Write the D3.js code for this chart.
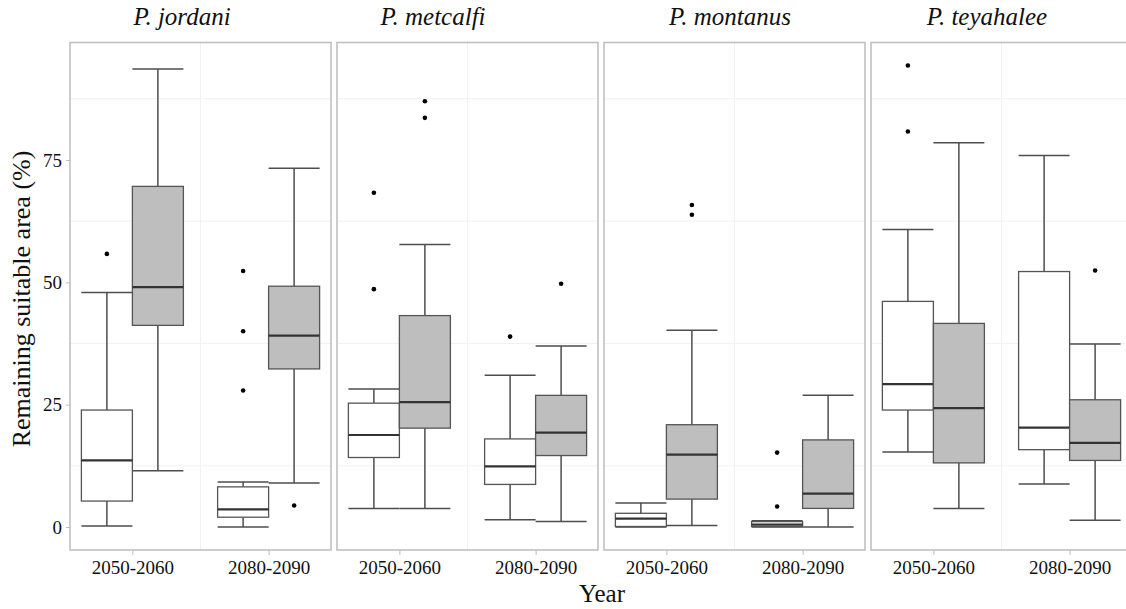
<!DOCTYPE html>
<html>
<head>
<meta charset="utf-8">
<script src="https://cdnjs.cloudflare.com/ajax/libs/d3/7.8.5/d3.min.js"></script>
<style>
    body { margin: 0; background: #fff; }
    svg { display: block; font-family: "Liberation Serif", "DejaVu Serif", serif; }
</style>
</head>
<body>
<div id="chart"></div>
<script>
// data: [lower whisker, q1, median, q3, upper whisker]
// order in each list: 2050-2060 white, 2050-2060 grey, 2080-2090 white, 2080-2090 grey
const species = ['P. jordani', 'P. metcalfi', 'P. montanus', 'P. teyahalee'];
const periods = ['2050-2060', '2080-2090'];
const scenarios = ['white', 'grey'];
const yTicks = [0, 25, 50, 75];

const jordaniBoxes = [[0.2, 5.3, 13.6, 23.9, 47.9], [11.5, 41.2, 49.0, 69.6, 93.6], [0, 2.0, 3.6, 8.2, 9.2], [9.0, 32.3, 39.1, 49.2, 73.3]];
const jordaniOutliers = [[55.8], [], [27.9, 40.0, 52.3], [4.4]];

const metcalfiBoxes = [[3.8, 14.2, 18.8, 25.3, 28.2], [3.8, 20.2, 25.5, 43.2, 57.7], [1.5, 8.7, 12.4, 18.0, 31.0], [1.1, 14.6, 19.3, 26.9, 37.0]];
const metcalfiOutliers = [[48.6, 68.3], [83.6, 87.0], [38.9], [49.7]];

const montanusBoxes = [[0, 0.1, 1.7, 2.8, 4.9], [0.3, 5.7, 14.8, 20.9, 40.2], [0, 0.1, 0.5, 1.1, 1.3], [0, 3.8, 6.8, 17.8, 26.9]];
const montanusOutliers = [[], [63.8, 65.8], [4.2, 15.2], []];

const teyahaleeBoxes = [[15.3, 23.9, 29.2, 46.1, 60.8], [3.8, 13.1, 24.3, 41.6, 78.5], [8.8, 15.8, 20.3, 52.2, 75.9], [1.4, 13.6, 17.2, 26.0, 37.4]];
const teyahaleeOutliers = [[80.8, 94.3], [], [], [52.4]];

const boxesBySpecies = [jordaniBoxes, metcalfiBoxes, montanusBoxes, teyahaleeBoxes];
const outliersBySpecies = [jordaniOutliers, metcalfiOutliers, montanusOutliers, teyahaleeOutliers];

// layout
const WIDTH = 1126, HEIGHT = 609;
const PANEL_LEFT = 70, PANEL_STEP = 267, PANEL_W = 261;
const PANEL_TOP = 42.5, PANEL_BOTTOM = 550;
const TITLE_X = [182, 433, 730, 987];
const FILLS = { white: '#ffffff', grey: '#bebebe' };

let svg = d3.select('#chart').append('svg')
    .attr('width', WIDTH)
    .attr('height', HEIGHT);

let y = d3.scaleLinear().domain([-4.7, 99.0]).range([PANEL_BOTTOM, PANEL_TOP]);
let dodge = d3.scaleBand().domain(scenarios).range([-51, 51]).padding(0);

function drawPanel(i) {
    let left = PANEL_LEFT + i * PANEL_STEP;
    let x = d3.scalePoint().domain(periods).range([left, left + PANEL_W]).padding(0.458);
    let g = svg.append('g');

    // faint grid
    g.selectAll('.hgrid').data([12.5, 37.5, 62.5, 87.5]).enter().append('line')
        .attr('x1', left).attr('x2', left + PANEL_W)
        .attr('y1', d => y(d)).attr('y2', d => y(d))
        .attr('stroke', '#f1f1f1').attr('stroke-width', 1);
    g.append('line')
        .attr('x1', left + PANEL_W / 2).attr('x2', left + PANEL_W / 2)
        .attr('y1', PANEL_TOP).attr('y2', PANEL_BOTTOM)
        .attr('stroke', '#f1f1f1').attr('stroke-width', 1);

    let boxes = boxesBySpecies[i];
    let outliers = outliersBySpecies[i];
    let bw = dodge.bandwidth();

    boxes.forEach((b, k) => {
        let period = periods[Math.floor(k / 2)];
        let scen = scenarios[k % 2];
        let x0 = x(period) + dodge(scen);
        let cx = x0 + bw / 2;

        // whiskers with caps
        g.append('line').attr('x1', cx).attr('x2', cx).attr('y1', y(b[0])).attr('y2', y(b[1]))
            .attr('stroke', '#4d4d4d').attr('stroke-width', 1.5);
        g.append('line').attr('x1', cx).attr('x2', cx).attr('y1', y(b[3])).attr('y2', y(b[4]))
            .attr('stroke', '#4d4d4d').attr('stroke-width', 1.5);
        [b[0], b[4]].forEach(v => {
            g.append('line').attr('x1', x0).attr('x2', x0 + bw).attr('y1', y(v)).attr('y2', y(v))
                .attr('stroke', '#4d4d4d').attr('stroke-width', 1.5);
        });

        g.append('rect')
            .attr('x', x0).attr('width', bw)
            .attr('y', y(b[3])).attr('height', Math.max(0.5, y(b[1]) - y(b[3])))
            .attr('fill', FILLS[scen])
            .attr('stroke', '#555').attr('stroke-width', 1.3);
        g.append('line').attr('x1', x0).attr('x2', x0 + bw).attr('y1', y(b[2])).attr('y2', y(b[2]))
            .attr('stroke', '#333').attr('stroke-width', 2.2);

        g.selectAll(null).data(outliers[k]).enter().append('circle')
            .attr('cx', cx).attr('cy', d => y(d)).attr('r', 2.3)
            .attr('fill', '#000');
    });

    // border
    g.append('rect')
        .attr('x', left).attr('y', PANEL_TOP)
        .attr('width', PANEL_W).attr('height', PANEL_BOTTOM - PANEL_TOP)
        .attr('fill', 'none').attr('stroke', '#bdbdbd').attr('stroke-width', 1.5);

    // x axis
    let xAxis = g.append('g')
        .attr('transform', `translate(0,${PANEL_BOTTOM})`)
        .call(d3.axisBottom(x).tickSize(5).tickPadding(6));
    xAxis.select('.domain').remove();
    xAxis.selectAll('line').attr('stroke', '#bdbdbd');
    xAxis.selectAll('text').attr('font-size', 19).attr('font-family', '"Liberation Serif", serif').attr('fill', '#111');

    // strip title
    svg.append('text')
        .attr('x', TITLE_X[i]).attr('y', 25)
        .attr('text-anchor', 'middle')
        .attr('font-size', 25).attr('font-style', 'italic')
        .attr('fill', '#111')
        .text(species[i]);
}

species.forEach((s, i) => drawPanel(i));

// y axis on the first panel
let yAxis = svg.append('g')
    .attr('transform', `translate(${PANEL_LEFT},0)`)
    .call(d3.axisLeft(y).tickValues(yTicks).tickSize(4).tickPadding(4));
yAxis.select('.domain').remove();
yAxis.selectAll('line').attr('stroke', '#bdbdbd');
yAxis.selectAll('text').attr('font-size', 19).attr('font-family', '"Liberation Serif", serif').attr('fill', '#111');

svg.append('text')
    .attr('transform', `translate(30,299) rotate(-90)`)
    .attr('text-anchor', 'middle')
    .attr('font-size', 26)
    .attr('fill', '#111')
    .text('Remaining suitable area (%)');

svg.append('text')
    .attr('x', 602).attr('y', 602)
    .attr('text-anchor', 'middle')
    .attr('font-size', 25)
    .attr('fill', '#111')
    .text('Year');
</script>
</body>
</html>
